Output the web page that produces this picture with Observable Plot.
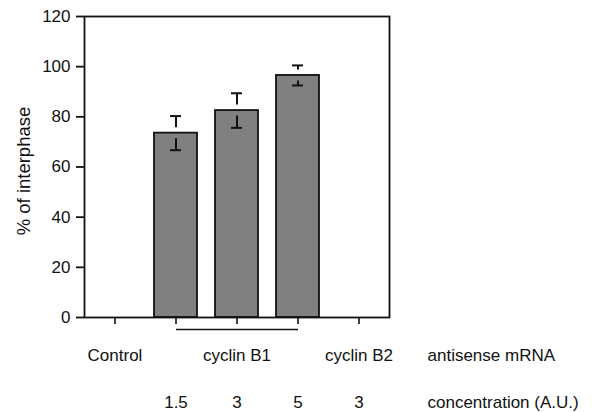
<!DOCTYPE html>
<html>
<head>
<meta charset="utf-8">
<script src="https://cdn.jsdelivr.net/npm/d3@7"></script>
<script src="https://cdn.jsdelivr.net/npm/@observablehq/plot@0.6"></script>
<style>
  html, body { margin: 0; padding: 0; background: #fff; }
  #chart { width: 601px; height: 412px; }
</style>
</head>
<body>
<div id="chart"></div>
<script>
// --- data ---
const groups = ["Control", "cyclin B1", "cyclin B1", "cyclin B1", "cyclin B2"];
const concentrations = ["", "1.5", "3", "5", "3"];
const values = [0, 73.5, 82.5, 96.5, 0];
const errors = [0, 6.8, 6.9, 4.0, 0];
const groupLabels = ["Control", "cyclin B1", "cyclin B2"];
const groupLabelBar = [0, 2, 4];
const bracketBars = [1, 3];
const yTicks = [0, 20, 40, 60, 80, 100, 120];
const yLabel = "% of interphase";
const rowLabels = ["antisense mRNA", "concentration (A.U.)"];

// --- build table ---
const keys = groups.map((g, i) => g + " " + concentrations[i]);
const table = keys.map((k, i) => ({key: k, group: groups[i], conc: concentrations[i], value: values[i], err: errors[i]}));
const bars = table.filter(d => d.value > 0);
const grpText = groupLabels.map((t, i) => ({key: keys[groupLabelBar[i]], text: t}));
const concText = table.filter(d => d.conc !== "");
const bracket = [{from: keys[bracketBars[0]], to: keys[bracketBars[1]]}];

const font = "Liberation Sans, Arial, Helvetica, sans-serif";

const chart = Plot.plot({
  width: 601,
  height: 412,
  marginLeft: 84,
  marginRight: 212,
  marginTop: 16,
  marginBottom: 95,
  style: {fontFamily: font, fontSize: "17px", color: "#111", background: "#fff", overflow: "visible"},
  x: {domain: keys, paddingInner: 0.3, paddingOuter: 0.15},
  y: {domain: [0, 120]},
  marks: [
    Plot.barY(bars, {x: "key", y: "value", fill: "#808080", stroke: "#111", strokeWidth: 1.8}),
    // error bars: upper "T" and lower inverted T, with a gap around the bar top
    Plot.ruleX(bars, {x: "key", y1: d => d.value + d.err, y2: "value", insetBottom: 5.5, stroke: "#111", strokeWidth: 2}),
    Plot.ruleX(bars, {x: "key", y1: "value", y2: d => d.value - d.err, insetTop: 5.5, stroke: "#111", strokeWidth: 2}),
    Plot.tickY(bars, {x: "key", y: d => d.value + d.err, insetLeft: 16, insetRight: 16, stroke: "#111", strokeWidth: 2}),
    Plot.tickY(bars, {x: "key", y: d => d.value - d.err, insetLeft: 16, insetRight: 16, stroke: "#111", strokeWidth: 2}),
    Plot.frame({stroke: "#111", strokeWidth: 1.8}),
    Plot.axisY({ticks: yTicks, tickSize: 8, tickPadding: 6, label: null, fontSize: 17, strokeWidth: 1.8}),
    Plot.axisX({tickSize: 7, tickFormat: () => "", label: null, strokeWidth: 1.6}),
    Plot.link(bracket, {x1: "from", x2: "to", y1: () => 0, y2: () => 0, dy: 12, stroke: "#111", strokeWidth: 1.6}),
    Plot.text(grpText, {x: "key", frameAnchor: "bottom", text: "text", dy: 43, fontSize: 17, fill: "#111"}),
    Plot.text(concText, {x: "key", frameAnchor: "bottom", text: "conc", dy: 90, fontSize: 17, fill: "#111"}),
    Plot.text([rowLabels[0]], {frameAnchor: "bottom-right", text: d => d, textAnchor: "start", dx: 38, dy: 43, fontSize: 17, fill: "#111"}),
    Plot.text([rowLabels[1]], {frameAnchor: "bottom-right", text: d => d, textAnchor: "start", dx: 38, dy: 90, fontSize: 17, fill: "#111"}),
    Plot.text([yLabel], {frameAnchor: "left", text: d => d, textAnchor: "middle", rotate: -90, dx: -60, dy: 4, fontSize: 18.5, fill: "#111"})
  ]
});
document.getElementById("chart").appendChild(chart);
</script>
</body>
</html>
